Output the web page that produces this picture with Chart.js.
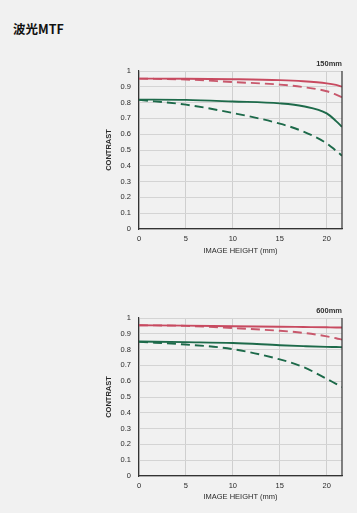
<!DOCTYPE html>
<html>
<head>
<meta charset="utf-8">
<script src="https://cdn.jsdelivr.net/npm/chart.js@4.4.1/dist/chart.umd.min.js"></script>
<style>
  html, body { margin: 0; padding: 0; background: #f1f1f1; width: 357px; height: 513px; overflow: hidden; }
  #title { position: absolute; left: 13px; top: 19px; font-family: "Noto Sans CJK SC", "Liberation Sans", sans-serif; font-weight: 700; font-size: 12.5px; color: #111; }
  .box { position: absolute; left: 100px; width: 250px; height: 205px; }
  #b1 { top: 55px; }
  #b2 { top: 300px; }
</style>
</head>
<body>
<div id="title">波光MTF</div>
<div class="box" id="b1"><canvas id="c1"></canvas></div>
<div class="box" id="b2"><canvas id="c2"></canvas></div>
<script>
// Image height positions (mm)
const imageHeight = [0, 5, 10, 15, 17.5, 20, 21, 21.63];
const yTicks = [0, 0.1, 0.2, 0.3, 0.4, 0.5, 0.6, 0.7, 0.8, 0.9, 1];
const xTicks = [0, 5, 10, 15, 20];

// 150mm
const w150SagSolid   = [0.952, 0.951, 0.948, 0.942, 0.935, 0.922, 0.912, 0.901];
const w150MerDashed  = [0.952, 0.946, 0.930, 0.914, 0.898, 0.872, 0.850, 0.834];
const g150SagSolid   = [0.819, 0.817, 0.807, 0.795, 0.777, 0.732, 0.683, 0.646];
const g150MerDashed  = [0.817, 0.787, 0.734, 0.667, 0.617, 0.542, 0.495, 0.464];

// 600mm
const r600SagSolid   = [0.954, 0.952, 0.948, 0.945, 0.943, 0.941, 0.940, 0.940];
const r600MerDashed  = [0.954, 0.950, 0.936, 0.919, 0.906, 0.884, 0.872, 0.863];
const g600SagSolid   = [0.851, 0.847, 0.842, 0.828, 0.822, 0.817, 0.816, 0.815];
const g600MerDashed  = [0.849, 0.832, 0.803, 0.738, 0.690, 0.615, 0.583, 0.563];

const RED = '#c84a60';
const RED_D = '#c8586c';
const GREEN = '#1d6a4a';
const FONT = '"Liberation Sans", Arial, sans-serif';

function pts(vals) { return imageHeight.map((x, i) => ({ x: x, y: vals[i] })); }

function ds(vals, color, dashed) {
  return {
    data: pts(vals), borderColor: color, borderWidth: 1.9,
    borderDash: dashed ? [9, 5] : [], pointRadius: 0,
    cubicInterpolationMode: 'monotone', fill: false
  };
}

function makeChart(id, lensLabel, sets, topPad, xHeight, bottomPad) {
  const framePlugin = {
    id: 'frame' + id,
    afterDraw(chart) {
      const { ctx, chartArea: a } = chart;
      ctx.save();
      ctx.strokeStyle = '#333';
      ctx.lineWidth = 1.2;
      ctx.beginPath();
      ctx.moveTo(a.right, a.top);
      ctx.lineTo(a.right, a.bottom);
      ctx.stroke();
      ctx.fillStyle = '#333';
      ctx.font = 'bold 7.5px ' + FONT;
      ctx.textAlign = 'right';
      ctx.textBaseline = 'middle';
      ctx.fillText(lensLabel, a.right, a.top - 7);
      ctx.restore();
    }
  };
  return new Chart(document.getElementById(id), {
    type: 'line',
    data: { datasets: sets },
    plugins: [framePlugin],
    options: {
      responsive: true, maintainAspectRatio: false, animation: false,
      layout: { padding: { top: topPad, right: 8, left: 4, bottom: bottomPad } },
      plugins: { legend: { display: false }, tooltip: { enabled: false } },
      scales: {
        x: {
          type: 'linear', min: 0, max: 21.63,
          afterBuildTicks(s) { s.ticks = xTicks.map(v => ({ value: v })); },
          afterFit(s) { s.height = xHeight; },
          grid: { color: '#cfcfcf', lineWidth: 1, drawTicks: false },
          border: { color: '#333', width: 1.2 },
          ticks: { color: '#2a2a2a', font: { family: FONT, size: 7.5 }, padding: 5, maxRotation: 0 },
          title: { display: true, text: 'IMAGE HEIGHT (mm)', color: '#2a2a2a', font: { family: FONT, size: 7.5 }, padding: { top: 4, bottom: 0 } }
        },
        y: {
          type: 'linear', min: 0, max: 1,
          afterBuildTicks(s) { s.ticks = yTicks.map(v => ({ value: v })); },
          afterFit(s) { s.width = 35; },
          grid: { color: '#d4d4d4', lineWidth: 1, drawTicks: false },
          border: { color: '#333', width: 1.2 },
          ticks: { color: '#2a2a2a', font: { family: FONT, size: 7.5 }, padding: 8,
                   callback: v => String(v) },
          title: { display: true, text: 'CONTRAST', color: '#2a2a2a', font: { family: FONT, size: 7.5, weight: 'bold' }, padding: { top: 0, bottom: 4 } }
        }
      }
    }
  });
}

makeChart('c1', '150mm', [
  ds(w150SagSolid, RED, false),
  ds(w150MerDashed, RED_D, true),
  ds(g150SagSolid, GREEN, false),
  ds(g150MerDashed, GREEN, true)
], 16, 26, 5);

makeChart('c2', '600mm', [
  ds(r600SagSolid, RED, false),
  ds(r600MerDashed, RED_D, true),
  ds(g600SagSolid, GREEN, false),
  ds(g600MerDashed, GREEN, true)
], 18, 25, 4);
</script>
</body>
</html>
